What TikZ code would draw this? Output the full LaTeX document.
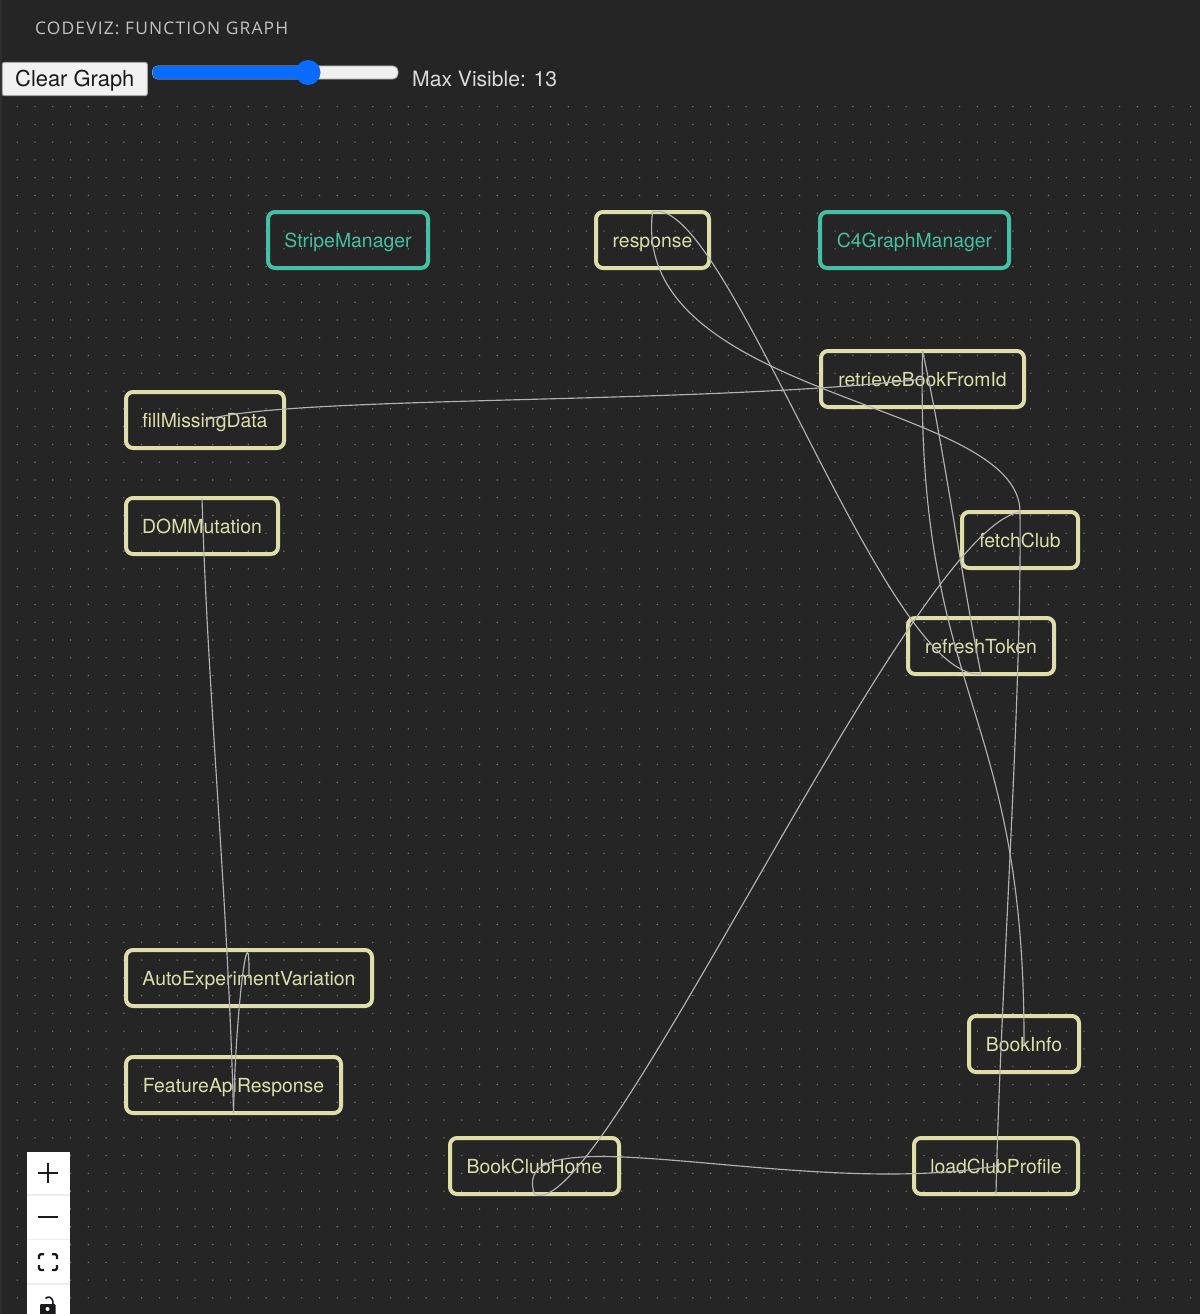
\documentclass[tikz,border=0pt]{standalone}
\usepackage{fontspec}
\setmainfont{TeX Gyre Heros}
\newfontfamily\titlefont[LetterSpace=6.6]{Open Sans}
\definecolor{bgc}{HTML}{252525}
\definecolor{stripc}{HTML}{2F2F2F}
\definecolor{dotc}{HTML}{777777}
\definecolor{tealc}{HTML}{45BFA5}
\definecolor{yelc}{HTML}{DFDDA9}
\definecolor{edgec}{HTML}{B2B2B6}
\definecolor{bluec}{HTML}{0A6CFF}
\definecolor{inkc}{HTML}{1A1A1E}
\tikzset{
  fnbox/.style={draw=yelc,text=yelc,line width=4pt,rounded corners=7pt,minimum height=56pt,inner sep=0pt,outer sep=0pt,text height=15.4pt,text depth=0pt,font=\fontsize{19.4}{22}\selectfont},
  clsbox/.style={fnbox,draw=tealc,text=tealc},
  link/.style={draw=edgec,line width=1.15pt},
  icon/.style={draw=inkc,line width=2.4pt}
}
\begin{document}
\begin{tikzpicture}[x=1pt,y=-1pt]
\useasboundingbox (0,0) rectangle (1200,1314);
\fill[bgc] (0,0) rectangle (1200,1314);
\fill[stripc] (0,0) rectangle (1.5,1314);
\foreach \i in {0,...,66}{
  \foreach \j in {0,...,67}{
    \fill[dotc] ({17.2+17.78*\i},{106.6+17.78*\j}) circle (0.8);
  }
}
\node[anchor=west,inner sep=0pt,text=white!72!bgc,font=\titlefont\fontsize{17.4}{20}\selectfont] (title) at (35,28) {CODEVIZ: FUNCTION GRAPH};
\node[draw=gray!70,fill=white!95!black,rounded corners=2pt,line width=1pt,minimum width=145pt,minimum height=33pt,inner sep=0pt,text=inkc,text height=15.8pt,text depth=0pt,font=\fontsize{21.9}{24}\selectfont] (clear) at (74.8,79) {Clear Graph};
\fill[white!94!black,draw=gray!70,line width=0.8pt,rounded corners=5pt] (152.5,66) rectangle (398,79);
\fill[bluec,rounded corners=5pt] (152.5,66) rectangle (308,79);
\fill[bluec] (308,72.5) circle (12.5);
\node[anchor=west,text=white!85!black,inner sep=0pt,text height=15.8pt,text depth=0pt,font=\fontsize{21.1}{24}\selectfont] (maxv) at (412,79) {Max Visible: 13};

\node[clsbox,minimum width=160pt] (stripe) at (348,240) {StripeManager};
\node[fnbox,minimum width=113pt] (resp) at (652.5,240) {response};
\node[clsbox,minimum width=189pt] (c4) at (914.5,240) {C4GraphManager};
\node[fnbox,minimum width=203pt] (retr) at (922.5,379) {retrieveBookFromId};
\node[fnbox,minimum width=158pt] (fill) at (205,420) {fillMissingData};
\node[fnbox,minimum width=152pt] (dom) at (202,526) {DOMMutation};
\node[fnbox,minimum width=116pt] (fetch) at (1020,540) {fetchClub};
\node[fnbox,minimum width=146pt] (refresh) at (981,646) {refreshToken};
\node[fnbox,minimum width=246pt] (auto) at (249,978) {AutoExperimentVariation};
\node[fnbox,minimum width=215pt] (feat) at (233.5,1085) {FeatureApiResponse};
\node[fnbox,minimum width=110pt] (binfo) at (1024,1044) {BookInfo};
\node[fnbox,minimum width=169pt] (bhome) at (534.5,1166) {BookClubHome};
\node[fnbox,minimum width=164pt] (load) at (996,1166) {loadClubProfile};

\draw[link] (resp.north) .. controls +(72,-22) and +(-96,8) .. (refresh.south);
\draw[link] (resp.north) .. controls +(-22.5,188) and +(0,-112) .. (fetch.north);
\draw[link] (retr.north) .. controls +(20,89) and +(-20,-100) .. (refresh.south);
\draw[link] (retr.north) .. controls +(-7.5,349) and +(1,-344) .. (binfo.center);
\draw[link] (fill.center) .. controls +(85,-25) and +(-222.5,26) .. (retr.center);
\draw[link] (fetch.north) .. controls +(2,188) and +(4,-194) .. (load.south);
\draw[link] (bhome.south) .. controls +(65.5,36) and +(-110,18) .. (fetch.north);
\draw[link] (bhome.south) .. controls +(-29.5,-85) and +(-196,34) .. (load.center);
\draw[link] (dom.north) .. controls +(6,202) and +(-5.5,-213) .. (feat.south);
\draw[link] (auto.center) .. controls +(1,-73) and +(2.5,-113) .. (feat.south);

\fill[white] (27,1152) rectangle (70,1314);
\foreach \yy in {1195,1239.5,1284}{\fill[black!7] (27,\yy-0.8) rectangle (70,\yy+0.8);}
\draw[icon] (38,1173) -- (58,1173) (48,1163) -- (48,1183);
\draw[icon] (38,1217) -- (58,1217);
\draw[icon,line width=2.2pt,rounded corners=1.5pt] (39,1259) -- (39,1254.2) -- (44,1254.2) (52,1254.2) -- (57,1254.2) -- (57,1259) (57,1265) -- (57,1270) -- (52,1270) (44,1270) -- (39,1270) -- (39,1265);
\fill[inkc,rounded corners=1pt] (40,1304) rectangle (55.5,1316);
\draw[inkc,line width=1.6pt] (45.5,1298.5) .. controls (48,1296) and (53,1296) .. (53,1304);
\fill[white] (47.5,1309) circle (2);
\end{tikzpicture}
\end{document}
